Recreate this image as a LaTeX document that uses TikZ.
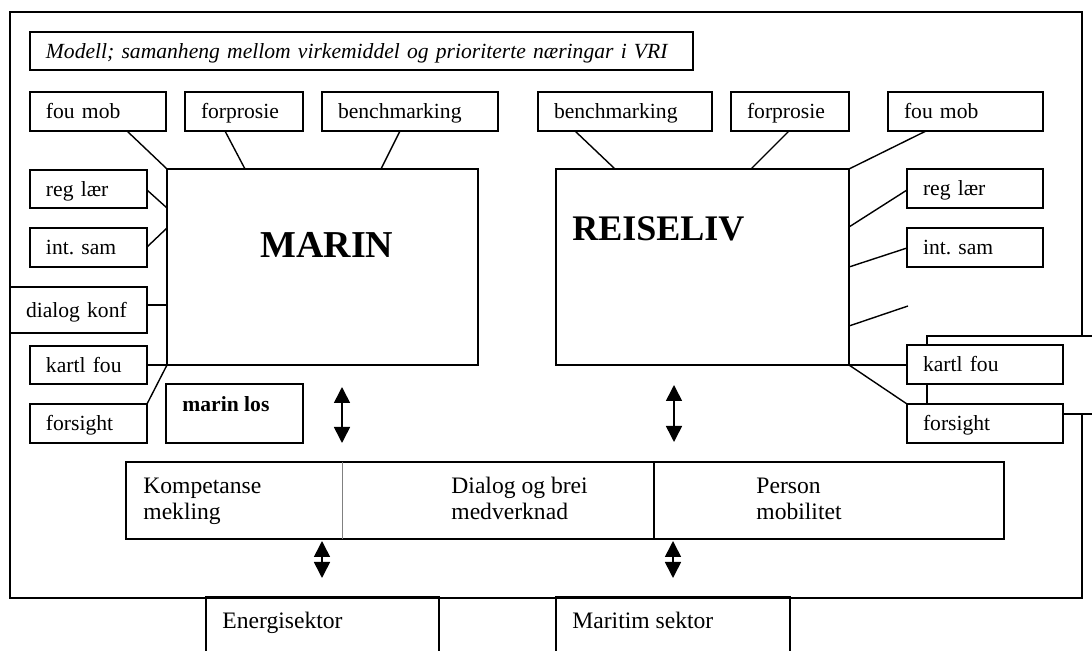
\documentclass[tikz,border=0pt]{standalone}
\usepackage{fontspec}
\setmainfont{Liberation Serif}
\usetikzlibrary{arrows.meta,calc}
\frenchspacing

\begin{document}
\begin{tikzpicture}[x=0.5pt,y=-0.5pt]

%
% Styles
%
\tikzstyle{plain} = [rectangle,draw,line width=0.8pt,anchor=north west,inner sep=0pt,outer sep=0pt]
\tikzstyle{box} = [plain,fill=white,inner xsep=8pt,align=left,text height=0.8em,text depth=0.06em,font=\fontsize{10.8}{13}\selectfont]
\tikzstyle{big} = [anchor=base west,inner sep=0pt,font=\fontsize{19}{22}\selectfont\bfseries]
\tikzstyle{txt} = [anchor=base west,inner sep=0pt,font=\fontsize{11.8}{13}\selectfont]
\tikzstyle{link} = [line width=0.7pt]
\tikzstyle{dbl} = [line width=0.8pt,{Triangle[width=8pt,length=8pt]}-{Triangle[width=8pt,length=8pt]}]

\useasboundingbox (0,0) rectangle (1092,651);

% outer frame and title
\node[plain,minimum width=536pt,minimum height=293pt] (frame) at (10,12) {};
\node[box,text width=315.5pt,minimum height=19pt,font=\fontsize{10.8}{13}\selectfont\itshape] (title) at (30,32) {Modell; samanheng mellom virkemiddel og prioriterte næringar i VRI};

% MARIN
\node[plain,minimum width=155.5pt,minimum height=98pt] (marin) at (167,169) {};
\node[big] (marintxt) at (260,258) {MARIN};
\node[box,text width=52pt,minimum height=19.5pt] (lfoumob) at (30,92) {fou mob};
\node[box,text width=43pt,minimum height=19.5pt] (lforprosie) at (185,92) {forprosie};
\node[box,text width=72pt,minimum height=19.5pt] (lbench) at (322,92) {benchmarking};
\node[box,text width=42.5pt,minimum height=19pt] (lreg) at (30,170) {reg lær};
\node[box,text width=42.5pt,minimum height=19.5pt] (lint) at (30,228) {int. sam};
\node[box,text width=52.5pt,minimum height=23pt] (ldialog) at (10,287) {dialog konf};
\node[box,text width=42.5pt,minimum height=19pt] (lkartl) at (30,346) {kartl fou};
\node[box,text width=42.5pt,minimum height=19.5pt] (lforsight) at (30,404) {forsight};
\node[plain,minimum width=68.5pt,minimum height=29.5pt] (marinlos) at (166,384) {};
\node[txt,font=\fontsize{10.8}{13}\selectfont\bfseries] (marinlostxt) at (182,412) {marin los};

\draw[link] ($(lfoumob.south west)+(97,0)$) -- (marin.north west);
\draw[link] ($(lforprosie.south west)+(40,0)$) -- ($(marin.north west)+(78,0)$);
\draw[link] ($(lbench.south west)+(78,0)$) -- ($(marin.north west)+(214,0)$);
\draw[link] ($(lreg.north east)+(0,20)$) -- ($(marin.north west)+(0,39)$);
\draw[link] ($(lint.north east)+(0,19)$) -- ($(marin.north west)+(0,59)$);
\draw[link] ($(ldialog.north east)+(0,18)$) -- ($(marin.north west)+(0,136)$);
\draw[link] ($(lkartl.north east)+(0,19)$) -- (marin.south west);
\draw[link] (lforsight.north east) -- (marin.south west);

% REISELIV
\node[plain,minimum width=146.5pt,minimum height=98pt] (reiseliv) at (556,169) {};
\node[big,font=\fontsize{18}{22}\selectfont\bfseries] (reiselivtxt) at (572,241) {REISELIV};
\node[box,text width=71pt,minimum height=19.5pt] (rbench) at (538,92) {benchmarking};
\node[box,text width=43pt,minimum height=19.5pt] (rforprosie) at (731,92) {forprosie};
\node[box,text width=61.5pt,minimum height=19.5pt] (rfoumob) at (888,92) {fou mob};
\node[box,text width=52pt,minimum height=19.5pt] (rreg) at (907,169) {reg lær};
\node[box,text width=52pt,minimum height=19.5pt] (rint) at (907,228) {int. sam};
\node[plain,fill=white,minimum width=91.5pt,minimum height=39pt] (rhidden) at (927,336) {};
\node[box,text width=62pt,minimum height=19.5pt] (rkartl) at (907,345) {kartl fou};
\node[box,text width=62pt,minimum height=19.5pt] (rforsight) at (907,404) {forsight};
\coordinate (rfree) at (908,306);

\draw[link] ($(rbench.south west)+(37,0)$) -- ($(reiseliv.north west)+(59,0)$);
\draw[link] ($(rforprosie.south west)+(58,0)$) -- ($(reiseliv.north west)+(195,0)$);
\draw[link] ($(rfoumob.south west)+(38,0)$) -- (reiseliv.north east);
\draw[link] ($(rreg.north west)+(0,21)$) -- ($(reiseliv.north east)+(0,58)$);
\draw[link] ($(rint.north west)+(0,20)$) -- ($(reiseliv.north east)+(0,98)$);
\draw[link] (rfree) -- ($(reiseliv.north east)+(0,157)$);
\draw[link] ($(rkartl.north west)+(0,20)$) -- (reiseliv.south east);
\draw[link] (rforsight.north west) -- (reiseliv.south east);

% virkemiddel band
\node[plain,minimum width=439pt,minimum height=38.5pt] (band) at (126,462) {};
\draw[gray,line width=0.4pt] ($(band.north west)+(216,0)$) -- ($(band.south west)+(216,0)$);
\draw[line width=0.8pt] ($(band.north west)+(528,0)$) -- ($(band.south west)+(528,0)$);
\node[txt] (komp) at (143,494) {\begin{tabular}[t]{@{}l@{}}Kompetanse\\mekling\end{tabular}};
\node[txt] (dialog) at (451,494) {\begin{tabular}[t]{@{}l@{}}Dialog og brei\\medverknad\end{tabular}};
\node[txt] (person) at (756,494) {\begin{tabular}[t]{@{}l@{}}Person\\mobilitet\end{tabular}};

% sektorar
\node[plain,minimum width=116.5pt,minimum height=36.5pt] (energi) at (206,597) {};
\node[txt] (energitxt) at (222,628) {Energisektor};
\node[plain,minimum width=117pt,minimum height=36.5pt] (maritim) at (556,597) {};
\node[txt] (maritimtxt) at (572,628) {Maritim sektor};

% arrows
\coordinate (ma1) at (342,387);
\coordinate (ma2) at (342,443);
\coordinate (ra1) at (674,385);
\coordinate (ra2) at (674,442);
\coordinate (ba1) at (322,541);
\coordinate (ba2) at (322,578);
\coordinate (bb1) at (673,541);
\coordinate (bb2) at (673,578);
\draw[dbl] (ma1) -- (ma2);
\draw[dbl] (ra1) -- (ra2);
\draw[dbl] (ba1) -- (ba2);
\draw[dbl] (bb1) -- (bb2);

\end{tikzpicture}
\end{document}
